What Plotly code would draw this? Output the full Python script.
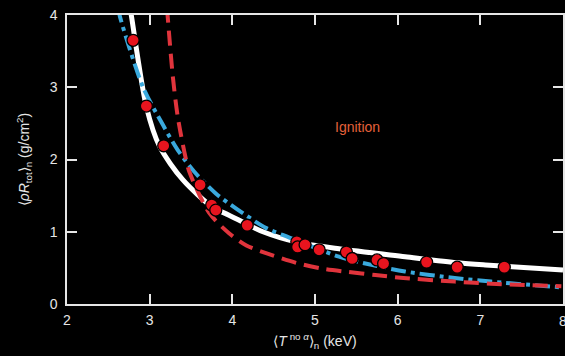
import plotly.graph_objects as go

# Data points (red circles)
pts_x = [2.80, 2.96, 3.17, 3.61, 3.75, 3.80, 4.18, 4.78, 4.79, 4.88, 5.05, 5.38, 5.45, 5.75, 5.83, 6.35, 6.72, 7.29]
pts_y = [3.65, 2.74, 2.19, 1.65, 1.37, 1.30, 1.09, 0.86, 0.79, 0.82, 0.75, 0.72, 0.63, 0.61, 0.56, 0.58, 0.51, 0.51]

# White solid curve
white_x = [2.755, 2.78, 2.96, 3.12, 3.40, 3.76, 3.96, 4.37, 4.77, 5.29, 6.09, 6.73, 7.06, 8.0]
white_y = [4.15, 3.98, 2.73, 2.18, 1.72, 1.34, 1.23, 1.00, 0.86, 0.765, 0.655, 0.57, 0.54, 0.47]

# Blue dash-dot curve
blue_x = [2.62, 2.64, 2.92, 3.16, 3.34, 3.54, 3.80, 4.06, 4.41, 4.69, 5.29, 5.61, 6.09, 6.69, 7.13, 7.98]
blue_y = [4.10, 3.98, 3.00, 2.48, 2.13, 1.83, 1.53, 1.31, 1.05, 0.92, 0.655, 0.56, 0.45, 0.36, 0.31, 0.23]

# Red dashed curve
red_x = [3.21, 3.22, 3.28, 3.34, 3.43, 3.48, 3.72, 3.96, 4.17, 4.47, 4.77, 5.09, 5.39, 5.73, 6.07, 6.69, 7.13, 7.98]
red_y = [4.10, 3.95, 3.15, 2.59, 2.05, 1.83, 1.26, 0.98, 0.81, 0.68, 0.57, 0.49, 0.445, 0.40, 0.36, 0.31, 0.28, 0.245]

x_ticks = [2, 3, 4, 5, 6, 7, 8]
y_ticks = [0, 1, 2, 3, 4]

FONT = "Liberation Sans, Arial, Helvetica, sans-serif"
TXT = "#e6e6e6"

fig = go.Figure()
fig.add_trace(go.Scatter(x=white_x, y=white_y, mode="lines", line=dict(color="white", width=5, shape="spline", smoothing=0.8), hoverinfo="skip"))
fig.add_trace(go.Scatter(x=blue_x, y=blue_y, mode="lines", line=dict(color="#3aa9dd", width=4, dash="15px,5px,4px,5px", shape="spline", smoothing=0.8), hoverinfo="skip"))
fig.add_trace(go.Scatter(x=red_x, y=red_y, mode="lines", line=dict(color="#e0343c", width=4, dash="15px,8px", shape="spline", smoothing=0.8), hoverinfo="skip"))
fig.add_trace(go.Scatter(x=pts_x, y=pts_y, mode="markers", marker=dict(color="#e8141e", size=12, line=dict(color="black", width=1.3))))

fig.add_annotation(x=5.52, y=2.45, text="Ignition", showarrow=False, font=dict(family=FONT, size=14, color="#e5603a"))

# last x tick label sits on the page edge (half cut off in the reference)
fig.add_annotation(x=x_ticks[-1], y=0, yref="y", xref="x", text=str(x_ticks[-1]), showarrow=False,
                   yanchor="middle", yshift=-17, font=dict(family=FONT, size=14, color=TXT))

axis_common = dict(showline=True, linecolor="#e6e6e6", linewidth=1.5, mirror="ticks", ticks="inside", ticklen=10,
                   tickwidth=1.5, tickcolor="#e6e6e6", showgrid=False, zeroline=False,
                   tickfont=dict(family=FONT, size=14, color=TXT))

fig.update_layout(
    width=565, height=356,
    margin=dict(l=67, r=0, t=15, b=52),
    paper_bgcolor="black", plot_bgcolor="black",
    showlegend=False,
    font=dict(family=FONT, color=TXT),
    xaxis=dict(range=[2, 8], tickvals=x_ticks, ticklabelstandoff=2,
               title=dict(text="⟨<i>T</i><sup> no <i>α</i></sup>⟩<sub>n</sub> (keV)", font=dict(family=FONT, size=14, color=TXT), standoff=10),
               **axis_common),
    yaxis=dict(range=[0, 4], tickvals=y_ticks, ticklabelstandoff=5,
               title=dict(text="⟨<i>ρR</i><sub>tot</sub>⟩<sub>n</sub> (g/cm<sup>2</sup>)", font=dict(family=FONT, size=14, color=TXT), standoff=17),
               **axis_common),
)

fig.write_html("out.html")
